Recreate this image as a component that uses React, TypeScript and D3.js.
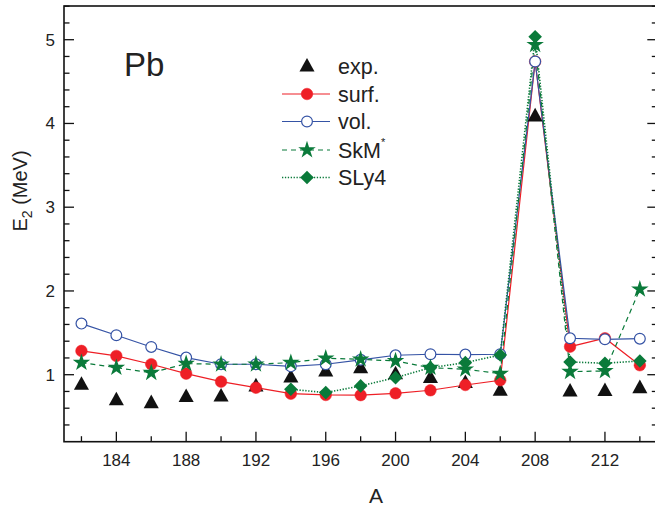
import React from "react";
import * as d3 from "d3";

const massNumbers = [182, 184, 186, 188, 190, 192, 194, 196, 198, 200, 202, 204, 206, 208, 210, 212, 214];
const expValues = [0.886, 0.70, 0.666, 0.738, 0.746, 0.866, 0.973, 1.045, 1.084, 1.01, 0.965, 0.905, 0.814, 4.09, 0.806, 0.81, 0.845];
const surfValues = [1.284, 1.224, 1.125, 1.013, 0.917, 0.845, 0.773, 0.758, 0.756, 0.778, 0.814, 0.877, 0.934, 4.74, 1.335, 1.435, 1.113];
const volValues = [1.61, 1.471, 1.331, 1.204, 1.125, 1.125, 1.10, 1.125, 1.178, 1.232, 1.244, 1.24, 1.244, 4.74, 1.435, 1.423, 1.43];
const skmValues = [1.144, 1.084, 1.024, 1.132, 1.125, 1.125, 1.144, 1.196, 1.184, 1.164, 1.084, 1.065, 1.013, 4.94, 1.036, 1.045, 2.02];
const sly4Mass = [194, 196, 198, 200, 202, 204, 206, 208, 210, 212, 214];
const sly4Values = [0.826, 0.786, 0.866, 0.965, 1.084, 1.144, 1.236, 5.035, 1.152, 1.137, 1.164];

const xMajorTicks = [184, 188, 192, 196, 200, 204, 208, 212];
const yMajorTicks = [1, 2, 3, 4, 5];

const W = 655, H = 506;
const left = 64, right = 657.3, top = 6, bottom = 441.7;
const FONT = "'Liberation Sans', Arial, Helvetica, sans-serif";
const RED = "#ee1f26";
const BLUE = "#3553a5";
const GREEN = "#0a7a3a";

const x = d3.scaleLinear().domain([181, 215]).range([left, right]);
const y = d3.scaleLinear().domain([0.2, 5.4 + 0.0001]).range([bottom, bottom - 5.2 * 83.75]);

type Pt = { a: number; v: number };
const zip = (as: number[], vs: number[]): Pt[] => as.map((a, i) => ({ a, v: vs[i] }));

const line = d3.line<Pt>().x(d => x(d.a)).y(d => y(d.v));

const triPath = (s: number) => `M0,${-s * 0.62}L${s * 0.58},${s * 0.42}L${-s * 0.58},${s * 0.42}Z`;
const starPath = d3.symbol(d3.symbolStar, 95)()!;
const diamondPath = (s: number) => `M0,${-s}L${s},0L0,${s}L${-s},0Z`;

function Marker({ kind, cx, cy }: { kind: string; cx: number; cy: number }) {
  const t = `translate(${cx},${cy})`;
  if (kind === "tri") return <path d={triPath(13)} transform={t} fill="#111" />;
  if (kind === "dot") return <circle cx={cx} cy={cy} r={5.8} fill={RED} stroke={RED} strokeWidth={0.5} />;
  if (kind === "open") return <circle cx={cx} cy={cy} r={5.4} fill="#fff" stroke={BLUE} strokeWidth={1.2} />;
  if (kind === "star") return <path d={starPath} transform={t} fill={GREEN} />;
  return <path d={diamondPath(6.8)} transform={t} fill={GREEN} />;
}

export default function App() {
  const exp = zip(massNumbers, expValues);
  const surf = zip(massNumbers, surfValues);
  const vol = zip(massNumbers, volValues);
  const skm = zip(massNumbers, skmValues);
  const sly = zip(sly4Mass, sly4Values);

  const xMinor = d3.range(182, 215, 2).filter(v => !xMajorTicks.includes(v));
  const yAll = d3.range(0.4, 5.41, 0.2).map(v => +v.toFixed(1));
  const yMinor = yAll.filter(v => !yMajorTicks.includes(v));

  const legend = [
    { label: "exp.", kind: "tri", color: "none", dash: "" },
    { label: "surf.", kind: "dot", color: RED, dash: "" },
    { label: "vol.", kind: "open", color: BLUE, dash: "" },
    { label: "SkM", kind: "star", color: GREEN, dash: "5,4" },
    { label: "SLy4", kind: "diamond", color: GREEN, dash: "1.3,1.6" },
  ];
  const legY = [66, 94, 121.5, 150, 177.5];

  return (
    <div style={{ position: "absolute", left: 0, top: 0 }}>
      <svg width={W} height={H} style={{ display: "block", background: "#fff" }} fontFamily={FONT}>
        <clipPath id="plot">
          <rect x={left} y={top} width={right - left} height={bottom - top} />
        </clipPath>
        {/* frame */}
        <rect x={left} y={top} width={right - left} height={bottom - top} fill="none" stroke="#111" strokeWidth={1.6} />
        {/* x ticks */}
        {xMajorTicks.map(t => (
          <line key={"xM" + t} x1={x(t)} x2={x(t)} y1={bottom} y2={bottom - 10} stroke="#111" strokeWidth={1.3} />
        ))}
        {xMinor.map(t => (
          <line key={"xm" + t} x1={x(t)} x2={x(t)} y1={bottom} y2={bottom - 5.5} stroke="#111" strokeWidth={1.3} />
        ))}
        {xMajorTicks.map(t => (
          <text key={"xl" + t} x={x(t)} y={466} textAnchor="middle" fontSize={17} fill="#222">{t}</text>
        ))}
        {/* y ticks left and right */}
        {yMajorTicks.map(t => (
          <g key={"yM" + t}>
            <line x1={left} x2={left + 10} y1={y(t)} y2={y(t)} stroke="#111" strokeWidth={1.3} />
            <line x1={right} x2={right - 10} y1={y(t)} y2={y(t)} stroke="#111" strokeWidth={1.3} />
            <text x={55} y={y(t) + 6} textAnchor="end" fontSize={17} fill="#222">{t}</text>
          </g>
        ))}
        {yMinor.map(t => (
          <g key={"ym" + t}>
            <line x1={left} x2={left + 5.5} y1={y(t)} y2={y(t)} stroke="#111" strokeWidth={1.3} />
            <line x1={right} x2={right - 5.5} y1={y(t)} y2={y(t)} stroke="#111" strokeWidth={1.3} />
          </g>
        ))}
        {/* axis titles */}
        <text x={376} y={503} textAnchor="middle" fontSize={21} fill="#222">A</text>
        <text transform="translate(27,191) rotate(-90)" textAnchor="middle" fontSize={20} fill="#222">
          E<tspan fontSize={14} dy={5}>2</tspan><tspan dy={-5}> (MeV)</tspan>
        </text>
        <text x={124} y={76} fontSize={33} fill="#222">Pb</text>

        {/* series lines */}
        <g clipPath="url(#plot)">
          <path d={line(surf)!} fill="none" stroke={RED} strokeWidth={1.2} />
          <path d={line(vol)!} fill="none" stroke={BLUE} strokeWidth={1.2} />
          <path d={line(skm)!} fill="none" stroke={GREEN} strokeWidth={1.2} strokeDasharray="5,4" />
          <path d={line(sly)!} fill="none" stroke={GREEN} strokeWidth={1.6} strokeDasharray="1.3,1.6" />
          {exp.map(d => <Marker key={"e" + d.a} kind="tri" cx={x(d.a)} cy={y(d.v)} />)}
          {surf.map(d => <Marker key={"s" + d.a} kind="dot" cx={x(d.a)} cy={y(d.v)} />)}
          {vol.map(d => <Marker key={"v" + d.a} kind="open" cx={x(d.a)} cy={y(d.v)} />)}
          {skm.map(d => <Marker key={"k" + d.a} kind="star" cx={x(d.a)} cy={y(d.v)} />)}
          {sly.map(d => <Marker key={"l" + d.a} kind="diamond" cx={x(d.a)} cy={y(d.v)} />)}
        </g>

        {/* legend */}
        {legend.map((l, i) => (
          <g key={l.label}>
            {l.color !== "none" && (
              <line x1={282} x2={330} y1={legY[i]} y2={legY[i]} stroke={l.color} strokeWidth={l.kind === "diamond" ? 1.6 : 1.2} strokeDasharray={l.dash || undefined} />
            )}
            <Marker kind={l.kind} cx={307} cy={legY[i]} />
            <text x={338} y={legY[i] + 7.5} fontSize={21.5} fill="#222">
              {l.label}
              {l.label === "SkM" && <tspan fontSize={11} dy={-12}>*</tspan>}
            </text>
          </g>
        ))}
      </svg>
    </div>
  );
}
